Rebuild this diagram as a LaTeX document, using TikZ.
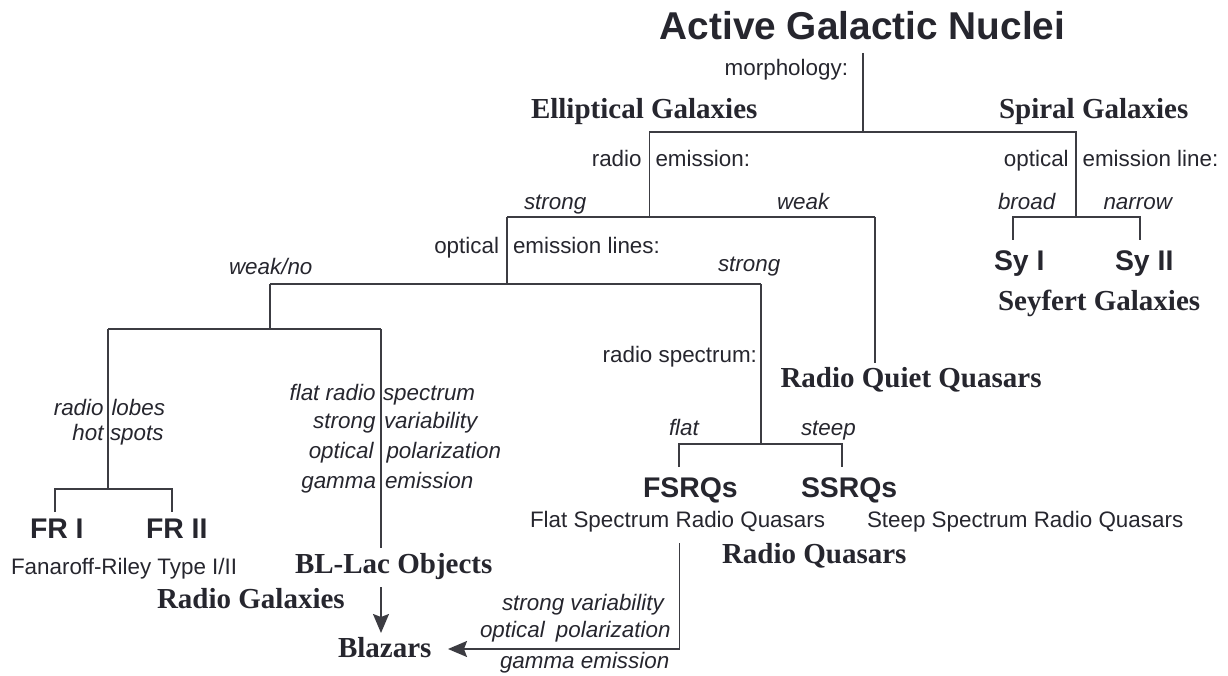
\documentclass[tikz,border=0pt]{standalone}
\usepackage{fontspec}
\setmainfont{Liberation Sans}
\newfontfamily\serifb{Liberation Serif}
\usetikzlibrary{arrows.meta}
\definecolor{tc}{RGB}{38,38,46}
\definecolor{lc}{RGB}{60,60,66}
\tikzset{
  base/.style={inner sep=0pt, outer sep=0pt, text=tc},
  lbl/.style={base, font=\fontsize{22.4}{27}\selectfont},
  itl/.style={base, font=\fontsize{22.4}{27}\selectfont\itshape},
  cls/.style={base, font=\fontsize{28.4}{34}\selectfont\bfseries},
  grp/.style={base, font=\serifb\fontsize{29}{34}\selectfont\bfseries},
  ttl/.style={base, font=\fontsize{38.8}{46}\selectfont\bfseries},
  ln/.style={draw=lc, line width=1.7pt},
  arr/.style={ln, -{Stealth[width=16pt,length=19pt,inset=3pt]}}
}
\begin{document}
\begin{tikzpicture}[x=1pt,y=-1pt]
\useasboundingbox (0,0) rectangle (1228,676);
% ---- title
\node[ttl, anchor=base] (agn) at (862.5,40) {Active Galactic Nuclei};
% ---- coordinates of the tree
\coordinate (n0) at (863,53);
\coordinate (n1) at (863,132);
\coordinate (eL) at (649.5,132);
\coordinate (eR) at (1076,132);
\coordinate (eL2) at (649.5,217);
\coordinate (eR2) at (1076,217);
\coordinate (rS) at (507,217);
\coordinate (rW) at (875,217);
\coordinate (sA) at (1013,217);
\coordinate (sB) at (1140,217);
\coordinate (sA2) at (1013,240);
\coordinate (sB2) at (1140,240);
\coordinate (oS) at (507,284);
\coordinate (oW) at (270,284);
\coordinate (oQ) at (761,284);
\coordinate (rq) at (875,363);
\coordinate (oW2) at (270,329);
\coordinate (g1) at (108,329);
\coordinate (g2) at (381,329);
\coordinate (fr) at (108,489);
\coordinate (fa) at (55,489);
\coordinate (fb) at (172,489);
\coordinate (fa2) at (55,512);
\coordinate (fb2) at (172,512);
\coordinate (bl) at (381,548);
\coordinate (ar1) at (381,587);
\coordinate (ar2) at (381,633);
\coordinate (rs) at (761,444);
\coordinate (qa) at (679,444);
\coordinate (qb) at (842,444);
\coordinate (qa2) at (679,467);
\coordinate (qb2) at (842,467);
\coordinate (fq1) at (679.5,543);
\coordinate (fq2) at (679.5,649);
\coordinate (bz) at (448,649);
% ---- lines
\draw[ln] (n0) -- (n1);
\draw[ln] (eL2) -- (eL) -- (eR) -- (eR2);
\draw[ln] (rS) -- (rW);
\draw[ln] (rW) -- (rq);
\draw[ln] (sA2) -- (sA) -- (sB) -- (sB2);
\draw[ln] (rS) -- (oS);
\draw[ln] (oW) -- (oQ);
\draw[ln] (oW) -- (oW2);
\draw[ln] (g1) -- (g2);
\draw[ln] (g1) -- (fr);
\draw[ln] (fa2) -- (fa) -- (fb) -- (fb2);
\draw[ln] (g2) -- (bl);
\draw[arr] (ar1) -- (ar2);
\draw[ln] (oQ) -- (rs);
\draw[ln] (qa2) -- (qa) -- (qb) -- (qb2);
\draw[arr] (fq1) -- (fq2) -- (bz);
% ---- texts
\node[lbl, anchor=base east] (morph) at (848,76) {morphology:};
\node[grp, anchor=base west] (ell) at (531,119) {Elliptical Galaxies};
\node[grp, anchor=base west] (spi) at (999,119) {Spiral Galaxies};
\node[lbl, anchor=base east] (re1) at (641.6,167) {radio};
\node[lbl, anchor=base west] (re2) at (655.5,167) {emission:};
\node[lbl, anchor=base east] (oe1) at (1068.7,167) {optical};
\node[lbl, anchor=base west] (oe2) at (1082.6,167) {emission line:};
\node[itl, anchor=base west] (strong1) at (524,210) {strong};
\node[itl, anchor=base west] (weak1) at (777,210) {weak};
\node[itl, anchor=base west] (broad) at (998,210) {broad};
\node[itl, anchor=base west] (narrow) at (1103.5,210) {narrow};
\node[cls, anchor=base west] (sy1) at (994,271) {Sy I};
\node[cls, anchor=base west] (sy2) at (1115,271) {Sy II};
\node[grp, anchor=base west] (sey) at (998,310) {Seyfert Galaxies};
\node[lbl, anchor=base east] (ol1) at (499,254) {optical};
\node[lbl, anchor=base west] (ol2) at (513,254) {emission lines:};
\node[itl, anchor=base west] (weakno) at (229,275) {weak/no};
\node[itl, anchor=base west] (strong2) at (718,272) {strong};
\node[lbl, anchor=base east] (rspec) at (757,362) {radio spectrum:};
\node[grp, anchor=base west] (rqq) at (780.5,387) {Radio Quiet Quasars};
\node[itl, anchor=base east] (rl1) at (103.6,415) {radio};
\node[itl, anchor=base west] (rl2) at (111.5,415) {lobes};
\node[itl, anchor=base east] (hs1) at (103.6,440) {hot};
\node[itl, anchor=base west] (hs2) at (110,440) {spots};
\node[itl, anchor=base east] (b1a) at (375.5,400) {flat radio};
\node[itl, anchor=base west] (b1b) at (383,400) {spectrum};
\node[itl, anchor=base east] (b2a) at (375.5,428) {strong};
\node[itl, anchor=base west] (b2b) at (384,428) {variability};
\node[itl, anchor=base east] (b3a) at (373.5,458) {optical};
\node[itl, anchor=base west] (b3b) at (386.5,458) {polarization};
\node[itl, anchor=base east] (b4a) at (376,488) {gamma};
\node[itl, anchor=base west] (b4b) at (385,488) {emission};
\node[itl, anchor=base west] (flat) at (669,435) {flat};
\node[itl, anchor=base west] (steep) at (801,435) {steep};
\node[cls, anchor=base west] (fr1) at (30,538) {FR I};
\node[cls, anchor=base west] (fr2) at (146,538) {FR II};
\node[lbl, anchor=base west] (fanr) at (11,574) {Fanaroff-Riley Type I/II};
\node[grp, anchor=base west] (bllac) at (295,573) {BL-Lac Objects};
\node[grp, anchor=base west] (rgal) at (157,608) {Radio Galaxies};
\node[cls, anchor=base west] (fsrq) at (643,497) {FSRQs};
\node[cls, anchor=base west] (ssrq) at (801,497) {SSRQs};
\node[lbl, anchor=base west] (fsrql) at (530,527) {Flat Spectrum Radio Quasars};
\node[lbl, anchor=base west] (ssrql) at (867,527) {Steep Spectrum Radio Quasars};
\node[grp, anchor=base west] (rquas) at (722,563) {Radio Quasars};
\node[itl, anchor=base west] (p1) at (502,610) {strong variability};
\node[itl, anchor=base west] (p2) at (480,637) {optical\hspace{0.5em}polarization};
\node[itl, anchor=base west] (p3) at (500,668) {gamma emission};
\node[grp, anchor=base west] (blz) at (338,657) {Blazars};
\end{tikzpicture}
\end{document}
